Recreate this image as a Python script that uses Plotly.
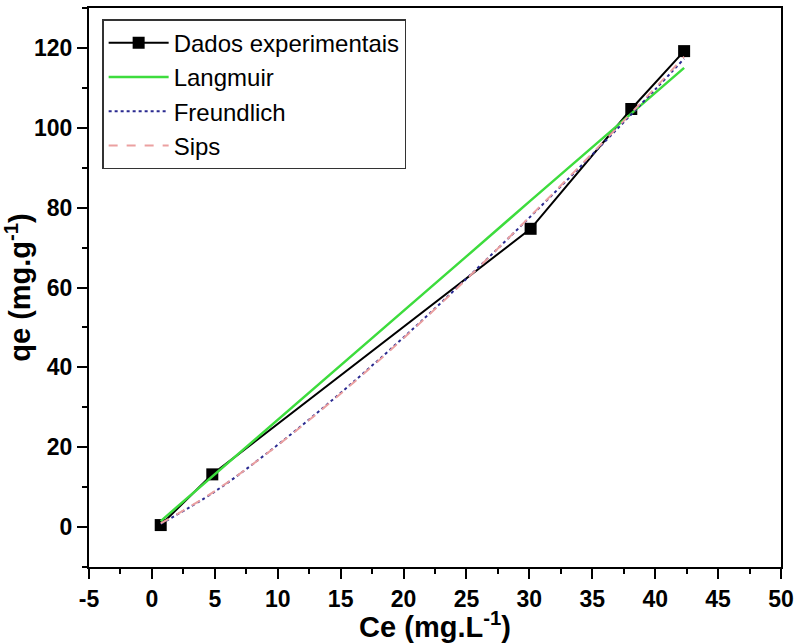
import plotly.graph_objects as go

# Experimental equilibrium data
ce_exp = [0.7, 4.8, 30.1, 38.1, 42.3]
qe_exp = [0.5, 13.2, 74.7, 104.7, 119.2]

# Isotherm model curves (Ce, qe)
ce_model = [0.7, 5, 10, 15, 20, 25, 30, 35, 40, 42.3]
qe_langmuir = [1.5, 13.2, 26.9, 40.5, 54.2, 67.8, 81.5, 95.1, 108.7, 115.0]
qe_freundlich = [0.8, 8.9, 20.6, 33.6, 47.5, 62.2, 77.5, 93.3, 109.6, 117.3]
qe_sips = [0.9, 9.0, 20.5, 33.4, 47.3, 62.1, 77.6, 93.6, 110.0, 117.8]

x_ticks = [-5, 0, 5, 10, 15, 20, 25, 30, 35, 40, 45, 50]
y_ticks = [0, 20, 40, 60, 80, 100, 120]

FONT = "Liberation Sans, Arial, sans-serif"

fig = go.Figure()
fig.add_trace(go.Scatter(
    x=ce_exp, y=qe_exp, mode="lines+markers", name="Dados experimentais",
    line=dict(color="black", width=2),
    marker=dict(symbol="square", size=12, color="black"),
))
fig.add_trace(go.Scatter(
    x=ce_model, y=qe_langmuir, mode="lines", name="Langmuir",
    line=dict(color="#3ddc3d", width=2.5),
))
fig.add_trace(go.Scatter(
    x=ce_model, y=qe_freundlich, mode="lines", name="Freundlich",
    line=dict(color="#2a2a90", width=2, dash="dot", shape="spline"),
))
fig.add_trace(go.Scatter(
    x=ce_model, y=qe_sips, mode="lines", name="Sips",
    line=dict(color="#eba0a0", width=2, dash="dash", shape="spline"),
))

tick_font = dict(family=FONT, size=23, color="black", weight=700)

axis_common = dict(
    showline=True, linecolor="black", linewidth=2, mirror=True,
    ticks="outside", tickcolor="black", tickwidth=2, ticklen=10,
    showgrid=False, zeroline=False,
    tickfont=tick_font,
    minor=dict(ticks="outside", ticklen=5, tickwidth=2, tickcolor="black"),
)

fig.update_xaxes(
    range=[-5, 50], tickvals=x_ticks, ticktext=[f"<b>{v}</b>" for v in x_ticks],
    minor_dtick=2.5,
    title=dict(text="<b>Ce (mg.L<sup>-1</sup>)</b>", standoff=2,
               font=dict(family=FONT, size=29, color="black", weight=700)),
    **axis_common,
)
fig.update_yaxes(
    range=[-10, 130], tickvals=y_ticks, ticktext=[f"<b>{v}</b>" for v in y_ticks],
    minor_dtick=10,
    title=dict(text="<b>qe (mg.g<sup>-1</sup>)</b>", standoff=0,
               font=dict(family=FONT, size=29, color="black", weight=700)),
    **axis_common,
)

fig.update_layout(
    width=800, height=643,
    margin=dict(l=89, r=16, t=6, b=76),
    paper_bgcolor="white", plot_bgcolor="white",
    font=dict(family=FONT, color="black"),
    showlegend=True,
    legend=dict(
        x=0.019, y=0.98, xanchor="left", yanchor="top",
        bgcolor="white", bordercolor="#333333", borderwidth=1.5,
        font=dict(family=FONT, size=24, color="black"),
        itemwidth=60, tracegroupgap=0,
    ),
)

fig.write_html("out.html")
